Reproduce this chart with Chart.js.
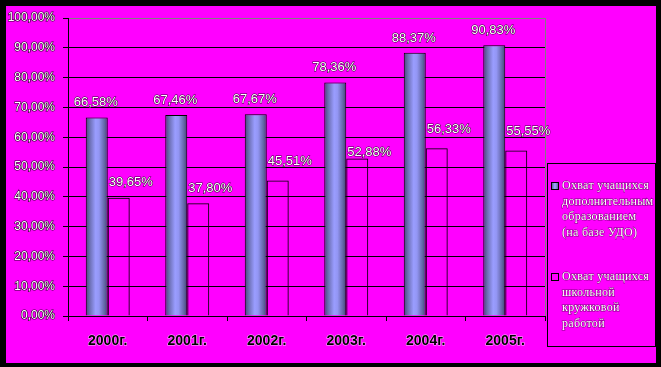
<!DOCTYPE html>
<html><head><meta charset="utf-8">
<script src="https://cdn.jsdelivr.net/npm/chart.js@4/dist/chart.umd.min.js"></script>
<style>html,body{margin:0;padding:0;background:#000;overflow:hidden}canvas{display:block}</style>
</head><body>
<canvas id="c" width="661" height="367"></canvas>
<script>
const categories = ['2000г.', '2001г.', '2002г.', '2003г.', '2004г.', '2005г.'];
const seriesUDO = [66.58, 67.46, 67.67, 78.36, 88.37, 90.83];
const seriesSchool = [39.65, 37.80, 45.51, 52.88, 56.33, 55.55];
const seriesNames = [
  'Охват учащихся дополнительным образованием (на базе УДО)',
  'Охват учащихся школьной кружковой работой'
];
const legendLines = [
  ['Охват учащихся', 'дополнительным', 'образованием', '(на базе УДО)'],
  ['Охват учащихся', 'школьной', 'кружковой', 'работой']
];
const yMin = 0, yMax = 100, yStep = 10;

const CAT_PCT = 0.553;
const fmt = v => v.toFixed(2).replace('.', ',') + '%';

function barGradient(ctx2d, left, right) {
  const g = ctx2d.createLinearGradient(left, 0, right, 0);
  g.addColorStop(0, '#454879');
  g.addColorStop(0.2, '#6f72b8');
  g.addColorStop(0.45, '#9a9dff');
  g.addColorStop(0.6, '#9396f4');
  g.addColorStop(0.85, '#6366a6');
  g.addColorStop(1, '#404372');
  return g;
}

const bgPlugin = {
  id: 'bg',
  beforeDraw(chart) {
    const c = chart.ctx;
    c.save();
    c.fillStyle = '#000';
    c.fillRect(0, 0, chart.width, chart.height);
    c.fillStyle = '#ff00ff';
    c.fillRect(6, 6, 650, 357);
    c.restore();
  },
  beforeDatasetsDraw(chart) {
    const a = chart.chartArea, c = chart.ctx;
    c.save();
    c.strokeStyle = '#808080';
    c.lineWidth = 1;
    c.beginPath();
    c.moveTo(Math.round(a.right) + 0.5, Math.round(a.top));
    c.lineTo(Math.round(a.right) + 0.5, Math.round(a.bottom));
    c.stroke();
    c.restore();
  }
};

const labelPlugin = {
  id: 'vlabels',
  afterDatasetsDraw(chart, args, opts) {
    const c = chart.ctx;
    c.save();
    c.font = '13px "Liberation Sans", Arial, sans-serif';
    c.textBaseline = 'middle';
    c.lineWidth = 1;
    c.strokeStyle = 'rgba(0,0,0,0.8)';
    c.fillStyle = '#ffffff';
    chart.data.datasets.forEach((ds, di) => {
      const meta = chart.getDatasetMeta(di);
      meta.data.forEach((el, i) => {
        const t = fmt(ds.data[i]);
        let x, y;
        if (di === 0) {
          c.textAlign = 'center';
          x = el.x - 1;
          y = el.y - opts.dy0[i];
        } else {
          c.textAlign = 'left';
          x = el.x - el.width / 2 + 1;
          y = el.y - opts.dy1[i];
        }
        c.strokeText(t, x, y);
        c.fillText(t, x, y);
      });
    });
    c.restore();
  }
};

const legendPlugin = {
  id: 'customLegend',
  afterDraw(chart) {
    const c = chart.ctx;
    c.save();
    c.strokeStyle = '#000';
    c.lineWidth = 1;
    c.strokeRect(547.5, 163.5, 108, 183);
    const items = [{sq: 182, text: 186}, {sq: 273, text: 277}];
    c.font = '12px "Liberation Serif", "Times New Roman", serif';
    if ('letterSpacing' in c) c.letterSpacing = '0.3px';
    c.textBaseline = 'middle';
    c.textAlign = 'left';
    items.forEach((it, k) => {
      if (k === 0) c.fillStyle = barGradient(c, 551, 559);
      else c.fillStyle = '#ff00ff';
      c.fillRect(551, it.sq, 8, 8);
      c.strokeStyle = '#000';
      c.lineWidth = 1;
      c.strokeRect(551.5, it.sq + 0.5, 7, 7);
      legendLines[k].forEach((ln, j) => {
        const y = it.text + j * 15.5;
        c.lineWidth = 1;
        c.strokeStyle = 'rgba(0,0,0,0.5)';
        c.strokeText(ln, 562, y);
        c.fillStyle = '#ffffff';
        c.fillText(ln, 562, y);
      });
    });
    c.restore();
  }
};

new Chart(document.getElementById('c'), {
  type: 'bar',
  data: {
    labels: categories,
    datasets: [
      {
        label: seriesNames[0],
        data: seriesUDO,
        borderColor: '#000',
        borderWidth: 1,
        backgroundColor: (ctx) => {
          const chart = ctx.chart, xs = chart.scales && chart.scales.x;
          if (!xs || ctx.type !== 'data' || !xs.width) return '#8a8cf0';
          const cw = xs.width / categories.length;
          const center = xs.getPixelForValue(ctx.dataIndex);
          const left = center - cw * CAT_PCT / 2;
          const right = left + cw * CAT_PCT / 2;
          return barGradient(chart.ctx, left, right);
        }
      },
      {
        label: seriesNames[1],
        data: seriesSchool,
        borderColor: '#000',
        borderWidth: 1,
        backgroundColor: 'rgba(0,0,0,0)'
      }
    ]
  },
  options: {
    responsive: false,
    animation: false,
    devicePixelRatio: 1,
    categoryPercentage: CAT_PCT,
    barPercentage: 1,
    layout: { padding: { left: 0, top: 18, right: 116, bottom: 0 } },
    plugins: {
      legend: { display: false },
      tooltip: { enabled: false },
      vlabels: { dy0: [15, 15, 15, 15, 14, 15], dy1: [15, 15, 19, 6, 19, 19] }
    },
    scales: {
      x: {
        offset: true,
        grid: { offset: true, drawOnChartArea: false, drawTicks: true, tickLength: 5, tickColor: '#000', color: '#000' },
        border: { color: '#000', width: 1 },
        ticks: {
          color: '#000',
          font: { family: '"Liberation Sans", Arial, sans-serif', size: 14, weight: 'bold' },
          padding: 12,
          maxRotation: 0,
          textStrokeColor: 'rgba(255,255,255,0.7)',
          textStrokeWidth: 1
        },
        afterFit: s => { s.height = 51; }
      },
      y: {
        min: yMin, max: yMax,
        ticks: {
          stepSize: yStep,
          callback: v => fmt(v),
          color: '#ffffff',
          font: { family: '"Liberation Sans", Arial, sans-serif', size: 12 },
          padding: 8,
          textStrokeColor: 'rgba(0,0,0,0.85)',
          textStrokeWidth: 1.2
        },
        grid: {
          color: ctx => (ctx.tick && ctx.tick.value === yMax) ? '#808080' : '#000',
          tickColor: '#000',
          tickLength: 5,
          lineWidth: 1
        },
        border: { color: '#000', width: 1 },
        afterFit: s => { s.width = 68; }
      }
    }
  },
  plugins: [bgPlugin, labelPlugin, legendPlugin]
});
</script>
</body></html>
